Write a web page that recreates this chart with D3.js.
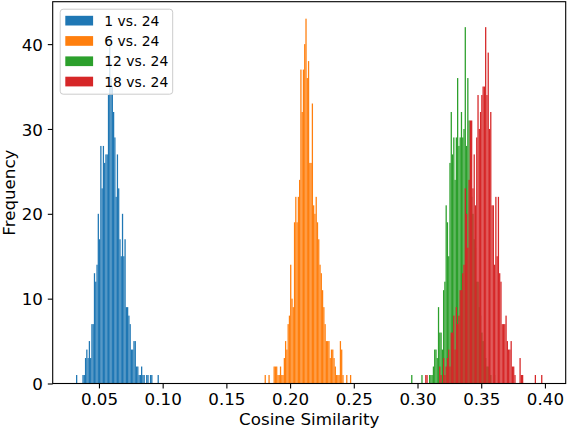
<!DOCTYPE html>
<html>
<head>
<meta charset="utf-8">
<script src="https://cdn.jsdelivr.net/npm/d3@7"></script>
<style>
  body { margin: 0; background: #fff; }
  text { font-family: "DejaVu Sans", sans-serif; fill: #000; }
</style>
</head>
<body>
<div class="viz"></div>
<script>
// series labels, one per histogram
const seriesLabels = ["1 vs. 24", "6 vs. 24", "12 vs. 24", "18 vs. 24"];
const seriesColors = ["#1f77b4", "#ff7f0e", "#2ca02c", "#d62728"];

// left edge of the first bin of each series, bin width (cosine similarity)
const binStarts = [0.032, 0.180, 0.295, 0.306];
const binWidth = 0.001;

// counts per bin
const counts1 = [1,0,0,0,0,1,1,3,4,3,5,3,7,7,13,12,14,20,17,28,23,28,26,27,27,34,40,36,35,32,29,22,27,23,17,15,20,15,17,9,9,8,7,4,4,5,5,2,2,1,1,2,1,1,0,1,1,0,1,1,0,0,0,0,1];
const counts6 = [1,0,0,1,0,0,0,2,2,2,1,1,2,1,1,3,5,4,7,8,14,10,9,19,22,19,22,24,37,32,37,40,43,36,38,26,26,33,21,20,22,19,17,14,13,11,9,7,5,5,5,3,4,4,3,2,1,1,1,5,4,1,0,0,1,0,0,1];
const counts12 = [1,0,0,0,0,0,0,0,1,0,0,0,0,0,1,1,1,2,4,4,3,9,6,6,4,11,12,21,19,15,26,32,27,29,24,29,36,28,29,32,29,30,42,28,36,31,24,22,20,17,16,12,12,9,8,6,5,4,3,2,2,1,1,0,0,1];
const counts18 = [1,1,0,0,0,0,0,0,0,0,0,2,1,0,3,1,2,3,4,2,6,6,8,4,9,7,8,11,11,13,14,23,20,16,24,31,31,23,27,21,29,34,30,32,34,35,35,42,34,39,30,32,21,21,14,22,15,22,13,12,7,7,7,8,5,4,4,5,2,2,1,0,0,0,3,1,1,0,0,0,0,0,0,0,0,0,1,0,0,0,0,1];

// tick labels
const xTicks = [0.05, 0.10, 0.15, 0.20, 0.25, 0.30, 0.35, 0.40];
const yTicks = [0, 10, 20, 30, 40];

class Histogram {
  constructor(_config) {
    this.config = {
      parentElement: _config.parentElement,
      containerWidth: _config.containerWidth || 568,
      containerHeight: _config.containerHeight || 430,
      margin: _config.margin || { top: 1.7, right: 2.3, bottom: 46.5, left: 52.7 },
    };
    this.series = [counts1, counts6, counts12, counts18].map((c, s) => ({
      label: seriesLabels[s],
      color: seriesColors[s],
      bins: c.map((n, i) => ({
        x0: binStarts[s] + i * binWidth,
        x1: binStarts[s] + (i + 1) * binWidth,
        n: n,
      })),
    }));
    this.initVis();
  }

  initVis() {
    let vis = this;
    const m = vis.config.margin;
    vis.width = vis.config.containerWidth - m.left - m.right;
    vis.height = vis.config.containerHeight - m.top - m.bottom;

    vis.svg = d3
      .select(vis.config.parentElement)
      .append("svg")
      .attr("width", vis.config.containerWidth)
      .attr("height", vis.config.containerHeight)
      .append("g")
      .attr("transform", "translate(" + m.left + "," + m.top + ")");

    // X scale with 5% padding like matplotlib
    const allBins = vis.series.flatMap((s) => s.bins);
    const xmin = d3.min(allBins, (d) => d.x0);
    const xmax = d3.max(allBins, (d) => d.x1);
    const pad = (xmax - xmin) * 0.05;
    const x = d3.scaleLinear().domain([xmin - pad, xmax + pad]).range([0, vis.width]);

    // Y scale
    const y = d3.scaleLinear().domain([0, 45]).range([vis.height, 0]);

    // bars, drawn in series order so red ends on top
    vis.svg
      .selectAll("g.series")
      .data(vis.series)
      .join("g")
      .attr("class", "series")
      .attr("fill", (d) => d.color)
      .selectAll("rect")
      .data((d) => d.bins.filter((b) => b.n > 0))
      .join("rect")
      .attr("x", (d) => x(d.x0))
      .attr("width", (d) => x(d.x1) - x(d.x0))
      .attr("y", (d) => y(d.n))
      .attr("height", (d) => y(0) - y(d.n));

    // Axes
    const fmt = d3.format(".2f");
    const xAxis = vis.svg
      .append("g")
      .attr("transform", "translate(0," + vis.height + ")")
      .call(d3.axisBottom(x).tickValues(xTicks).tickFormat(fmt).tickSize(4.9).tickPadding(4.9));
    const yAxis = vis.svg
      .append("g")
      .call(d3.axisLeft(y).tickValues(yTicks).tickSize(4.9).tickPadding(4.9));

    [xAxis, yAxis].forEach((a) => {
      a.select(".domain").remove();
      a.selectAll("line").attr("stroke", "#000").attr("stroke-width", 1.1);
      a.selectAll("text").attr("font-size", "16.7px").attr("font-family", "DejaVu Sans");
    });
    xAxis.selectAll("text").attr("dy", null).attr("y", 21.4);
    yAxis.selectAll("text").attr("dy", null).attr("y", 6.1);

    // frame
    vis.svg
      .append("rect")
      .attr("width", vis.width)
      .attr("height", vis.height)
      .attr("fill", "none")
      .attr("stroke", "#000")
      .attr("stroke-width", 1.1);

    // axis titles
    vis.svg
      .append("text")
      .attr("x", vis.width / 2)
      .attr("y", vis.height + 41.8)
      .attr("text-anchor", "middle")
      .attr("font-size", "16.7px")
      .text("Cosine Similarity");
    vis.svg
      .append("text")
      .attr("transform", "translate(" + (15 - m.left) + "," + vis.height / 2 + ") rotate(-90)")
      .attr("text-anchor", "middle")
      .attr("font-size", "16.7px")
      .text("Frequency");

    // Legend
    const legend = vis.svg.append("g").attr("transform", "translate(7,7)");
    legend
      .append("rect")
      .attr("x", 0.5)
      .attr("y", 0.5)
      .attr("width", 112.5)
      .attr("height", 85)
      .attr("rx", 3)
      .attr("fill", "#fff")
      .attr("fill-opacity", 0.8)
      .attr("stroke", "#cccccc")
      .attr("stroke-width", 1);
    const items = legend
      .selectAll("g.item")
      .data(vis.series)
      .join("g")
      .attr("class", "item")
      .attr("transform", (d, i) => "translate(5.6," + (12 + i * 20.3) + ")");
    items
      .append("rect")
      .attr("y", -4.9)
      .attr("width", 27.8)
      .attr("height", 9.7)
      .attr("fill", (d) => d.color);
    items
      .append("text")
      .attr("x", 38.9)
      .attr("y", 5)
      .attr("font-size", "13.9px")
      .text((d) => d.label);
  }
}

new Histogram({ parentElement: ".viz" });
</script>
</body>
</html>
